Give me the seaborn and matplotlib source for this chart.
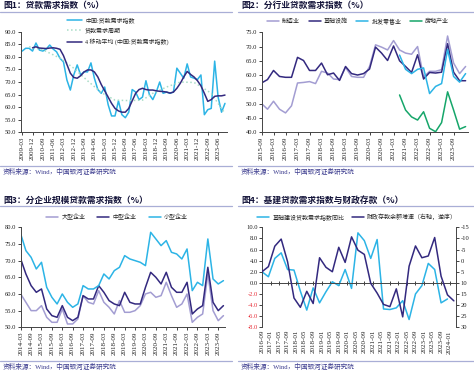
import matplotlib
matplotlib.use("Agg")
import matplotlib.pyplot as plt
from matplotlib.lines import Line2D
import seaborn as sns

# ---------------- 图1：贷款需求指数 (quarterly 2009Q1-2023Q4)
p1_ticks = ['2009-03', '2009-12', '2010-09', '2011-06', '2012-03', '2012-12',
            '2013-09', '2014-06', '2015-03', '2015-12', '2016-09', '2017-06',
            '2018-03', '2018-12', '2019-09', '2020-06', '2021-03', '2021-12',
            '2022-09', '2023-06']
p1_index = [82.3, 83.4, 83.4, 82.3, 85.5, 82.7, 82.3, 83.1, 84.7, 83.1,
            82.0, 79.4, 78.0, 70.8, 66.8, 72.8, 76.8, 72.8, 74.1, 74.0,
            77.6, 71.5, 67.0, 65.5, 68.0, 61.0, 56.5, 56.5, 62.5, 57.0,
            55.8, 58.0, 67.0, 66.0, 63.0, 64.0, 70.5, 65.0, 63.0, 66.0,
            70.0, 65.5, 66.0, 65.5, 66.0, 75.5, 73.5, 71.5, 77.2, 72.0,
            71.5, 71.0, 72.8, 57.0, 59.0, 59.5, 78.3, 64.0, 58.0, 61.5]
# 4 quarter moving average, starts at the 4th quarter
p1_ma = [83.6, 84.0, 83.5, 83.4, 83.3, 83.5, 83.6, 83.4, 83.0, 80.5,
         77.0, 73.5, 71.8, 71.5, 72.5, 74.0, 74.8, 74.8, 74.0, 72.0,
         69.0, 66.5, 64.0, 61.5, 59.5, 58.5, 58.0, 58.0, 59.5, 62.5,
         65.5, 67.0, 67.5, 67.0, 66.8, 66.8, 66.5, 66.3, 66.2, 66.0,
         65.6, 66.0, 67.5, 69.5, 72.0, 74.2, 73.0, 72.0, 70.5, 68.5,
         65.5, 62.3, 63.0, 64.3, 64.5, 64.5, 64.8]
p1_cycle_q = [2, 6, 11, 15, 19, 23, 27, 31, 35, 38, 42, 46, 50, 52, 55, 58, 59]
p1_cycle = [84.0, 82.8, 79.5, 75.5, 70.5, 65.8, 62.8, 62.6, 62.8, 65.5,
            68.0, 70.0, 69.8, 68.2, 65.5, 59.5, 57.5]

# ---------------- 图2：分行业贷款需求指数 (quarterly 2015Q3-2024Q1)
p2_ticks = ['2015-09', '2016-03', '2016-09', '2017-03', '2017-09', '2018-03',
            '2018-09', '2019-03', '2019-09', '2020-03', '2020-09', '2021-03',
            '2021-09', '2022-03', '2022-09', '2023-03', '2023-09']
p2_mfg = [50.0, 48.0, 50.8, 48.0, 46.7, 49.2, 57.2, 57.4, 57.7, 57.0,
          61.3, 60.7, 58.6, 58.4, 62.7, 59.5, 59.2, 59.2, 63.0, 70.6,
          69.8, 68.8, 72.1, 68.8, 67.7, 67.3, 70.0, 59.3, 61.3, 61.3,
          61.9, 73.7, 64.2, 60.5, 63.0]
p2_infra = [57.2, 58.4, 61.6, 59.5, 59.2, 59.2, 66.2, 65.1, 61.6, 61.6,
            64.2, 60.1, 60.7, 58.1, 63.0, 60.5, 60.0, 60.5, 62.1, 69.8,
            67.7, 65.1, 70.2, 65.0, 63.0, 60.9, 67.1, 58.6, 60.9, 60.7,
            61.0, 71.0, 61.0, 58.0, 58.0]
p2_start = 23  # 批发零售业 / 房地产业 start later
p2_retail = [67.0, 62.0, 60.5, 62.0, 62.5, 53.5, 56.0, 57.0, 69.0, 59.5, 57.5, 60.5]
p2_estate = [53.0, 47.7, 45.3, 44.2, 47.1, 41.3, 40.1, 43.3, 54.1, 47.7, 41.0, 41.9]

# ---------------- 图3：分企业规模贷款需求指数 (quarterly 2014Q1-2023Q4)
p3_ticks = ['2014-03', '2014-09', '2015-03', '2015-09', '2016-03', '2016-09',
            '2017-03', '2017-09', '2018-03', '2018-09', '2019-03', '2019-09',
            '2020-03', '2020-09', '2021-03', '2021-09', '2022-03', '2022-09',
            '2023-03', '2023-09']
p3_large = [60.0, 57.5, 55.0, 55.0, 56.5, 53.0, 51.5, 51.5, 55.5, 51.0,
            51.0, 52.5, 59.5, 57.5, 57.0, 61.0, 57.5, 56.0, 54.0, 58.0,
            54.5, 54.5, 55.0, 56.5, 60.0, 60.5, 59.0, 59.5, 63.5, 59.5,
            56.0, 57.0, 60.0, 51.5, 53.0, 54.0, 66.0, 55.0, 52.0, 53.5]
p3_mid = [70.5, 66.0, 62.5, 60.5, 61.5, 55.5, 53.5, 53.0, 56.5, 53.0,
          52.0, 53.0, 59.5, 58.5, 58.5, 62.5, 60.5, 58.0, 57.0, 56.5,
          60.5, 57.5, 57.0, 57.0, 62.0, 66.5, 65.0, 63.0, 66.5, 62.0,
          60.5, 60.5, 63.5, 54.0, 55.5, 56.5, 68.0, 57.5, 55.0, 56.5]
p3_small = [78.0, 73.0, 71.0, 67.5, 69.5, 62.0, 59.0, 57.0, 60.0, 57.5,
            56.0, 57.0, 62.5, 61.5, 61.5, 62.5, 66.0, 64.5, 67.0, 68.0,
            71.5, 70.5, 70.0, 69.5, 68.5, 78.5, 76.5, 74.5, 76.0, 72.5,
            72.0, 70.5, 73.5, 61.0, 63.5, 62.5, 76.5, 64.5, 63.0, 64.0]

# ---------------- 图4：基建贷款需求指数与财政存款 (monthly axis from 2016-09, quarterly data)
p4_ticks = ['2016-09', '2017-01', '2017-05', '2017-09', '2018-01', '2018-05',
            '2018-09', '2019-01', '2019-05', '2019-09', '2020-01', '2020-05',
            '2020-09', '2021-01', '2021-05', '2021-09', '2022-01', '2022-05',
            '2022-09', '2023-01', '2023-05', '2023-09', '2024-01']
p4_infra = [2.0, 1.1, 4.4, 5.4, 2.4, 2.3, -1.5, -4.9, -0.9, -3.6,
            -1.6, 0.2, -0.5, 2.4, -1.0, 9.0, 7.6, 4.4, 7.8, -4.7,
            -4.8, -4.5, -3.2, -6.6, -2.0, -0.5, 3.5, 2.4, -3.6, -2.9]
p4_fiscal = [5.0, 2.7, -6.5, -9.7, 0.5, 16.8, 21.0, 13.8, 19.3, -1.3,
             3.0, 5.0, -6.0, 0.8, -10.7, -4.7, -2.8, 10.2, 14.6, 19.7,
             20.7, 12.7, 25.3, 2.5, -6.6, -1.3, -2.1, -10.4, 7.0, 15.4, 18.1]

LBLUE = '#2cb4e6'
DPURP = '#33297f'
LPURP = '#a39dd2'
GREEN = '#16a66a'
PGREEN = '#a8dcc6'
TITLE_C = '#14143a'
RULE_C = '#a9aed6'
SRC_C = '#3b3b8e'
RED = '#e8303a'

sns.set_style('ticks')
plt.rcParams['font.family'] = ['Liberation Serif', 'Noto Sans CJK SC']
plt.rcParams['axes.unicode_minus'] = False

W, H = 474, 372
fig = plt.figure(figsize=(W / 100, H / 100), dpi=100)
LEG_FS = 4.3


def box(l, t, r, b):
    return [l / W, 1 - b / H, (r - l) / W, (b - t) / H]


def fy(y):
    return 1 - y / H


def header(x0, x1, yt, yr, ysr, ys, title):
    fig.text((x0 + 3) / W, fy(yt), title, fontsize=6.3, fontweight='bold',
             family=['Noto Sans CJK SC'], color=TITLE_C, va='center')
    fig.add_artist(Line2D([x0 / W, x1 / W], [fy(yr)] * 2, color=RULE_C, lw=0.9))
    fig.add_artist(Line2D([x0 / W, x1 / W], [fy(ysr)] * 2, color=RULE_C, lw=0.9))
    fig.text((x0 + 3) / W, fy(ys), '资料来源：Wind，中国银河证券研究院', fontsize=4.8,
             color=SRC_C, va='center', family=['Liberation Serif', 'Noto Sans CJK SC'])


def style(ax):
    for s in ['top', 'right']:
        ax.spines[s].set_visible(False)
    for s in ['left', 'bottom']:
        ax.spines[s].set_color('#444444')
        ax.spines[s].set_linewidth(0.7)
    ax.tick_params(axis='both', labelsize=4.7, length=2, width=0.6, pad=1.2,
                   colors='#222222')
    ax.tick_params(axis='x', labelsize=5.0)
    ax.set_xlabel('')
    ax.set_ylabel('')


def line(ax, x, y, color, label, **kw):
    sns.lineplot(x=x, y=y, ax=ax, color=color, label=label, lw=1.1, **kw)


def legend(ax_list, anchor, ncol, colsp, hl=2.0, loc='center', **kw):
    h, l = [], []
    for a in ax_list:
        hh, ll = a.get_legend_handles_labels()
        h += hh
        l += ll
        a.get_legend().remove()
    fig.legend(h, l, loc=loc, bbox_to_anchor=anchor, frameon=False, ncol=ncol,
               fontsize=LEG_FS, handlelength=hl, columnspacing=colsp,
               handletextpad=0.55, borderpad=0, borderaxespad=0, **kw)


header(0, 232, 5.5, 11.5, 166, 171.5, '图1：贷款需求指数（%）')
header(238, 474, 5.5, 11.5, 166, 171.5, '图2：分行业贷款需求指数（%）')
header(0, 232, 200.5, 206, 361, 366.5, '图3：分企业规模贷款需求指数（%）')
header(238, 474, 200.5, 206, 361, 366.5, '图4：基建贷款需求指数与财政存款（%）')

# ---- panel 1
ax1 = fig.add_axes(box(20.5, 31.7, 226.7, 132.3))
q1 = list(range(len(p1_index)))
line(ax1, q1, p1_index, LBLUE, '中国:贷款需求指数')
line(ax1, p1_cycle_q, p1_cycle, PGREEN, '贷款需求周期', linestyle=':')
line(ax1, q1[3:], p1_ma, DPURP, '4 移动平均 (中国:贷款需求指数)')
ax1.set_xlim(-0.5, 59.5)
ax1.set_ylim(50, 90)
ax1.set_yticks(range(50, 91, 5), [f'{v:.1f}' for v in range(50, 91, 5)])
ax1.set_xticks(range(0, 60, 3), p1_ticks, rotation=90)
style(ax1)
legend([ax1], (67 / W, fy(17)), 1, 1.0, hl=2.5, loc='upper left', labelspacing=0.85)

# ---- panel 2
ax2 = fig.add_axes(box(261.5, 32.3, 468, 132))
q2 = list(range(len(p2_mfg)))
qs = list(range(p2_start, p2_start + len(p2_retail)))
line(ax2, q2, p2_mfg, LPURP, '制造业')
line(ax2, q2, p2_infra, DPURP, '基础设施')
line(ax2, qs, p2_retail, LBLUE, '批发零售业')
line(ax2, qs, p2_estate, GREEN, '房地产业')
ax2.set_xlim(0, 34.4)
ax2.set_ylim(40, 75)
ax2.set_yticks(range(40, 76, 5), [f'{v:.1f}' for v in range(40, 76, 5)])
ax2.set_xticks(range(0, 34, 2), p2_ticks, rotation=90)
style(ax2)
legend([ax2], (358 / W, fy(21)), 4, 1.4)

# ---- panel 3
ax3 = fig.add_axes(box(20.7, 227.3, 225, 327.3))
q3 = list(range(len(p3_large)))
line(ax3, q3, p3_large, LPURP, '大型企业')
line(ax3, q3, p3_mid, DPURP, '中型企业')
line(ax3, q3, p3_small, LBLUE, '小型企业')
ax3.set_xlim(0, 39.3)
ax3.set_ylim(50, 80)
ax3.set_yticks(range(50, 81, 5), [f'{v:.1f}' for v in range(50, 81, 5)])
ax3.set_xticks(range(0, 40, 2), p3_ticks, rotation=90)
style(ax3)
legend([ax3], (117 / W, fy(217)), 3, 2.0)

# ---- panel 4
ax4 = fig.add_axes(box(262, 227.3, 456, 327.3))
ax4r = ax4.twinx()
m_infra = [3 * i for i in range(len(p4_infra))]
m_fiscal = [3 * i for i in range(len(p4_fiscal))]
line(ax4, m_infra, p4_infra, LBLUE, '基础建设贷款需求指数同比')
line(ax4r, m_fiscal, p4_fiscal, DPURP, '财政存款余额增速（右轴，逆序）')
ax4.set_xlim(0, 91)
ax4.set_ylim(-8, 10)
ax4r.set_ylim(30, -15)
yl = list(range(-8, 11, 2))
ax4.set_yticks(yl, [f'{v:.1f}' for v in yl])
ax4r.set_yticks(range(-15, 31, 5), [str(v) for v in range(-15, 31, 5)])
style(ax4)
for t, v in zip(ax4.get_yticklabels(), yl):
    t.set_color(RED if v < 0 else '#222222')
ax4.spines['bottom'].set_position(('data', 0))
ax4.set_xticks(range(0, 89, 4))
ax4.tick_params(axis='x', labelbottom=False, direction='inout', length=3)
sec = ax4.secondary_xaxis('bottom')
sec.set_xticks(range(0, 89, 4), p4_ticks, rotation=90)
sec.spines['bottom'].set_visible(False)
sec.tick_params(axis='x', length=0, labelsize=5.0, pad=2, colors='#222222')
for s in ['top', 'left', 'bottom']:
    ax4r.spines[s].set_visible(False)
ax4r.spines['right'].set_color('#444444')
ax4r.spines['right'].set_linewidth(0.7)
ax4r.tick_params(axis='y', labelsize=4.7, length=2, width=0.6, pad=1.5, colors='#222222')
ax4r.set_ylabel('')
legend([ax4, ax4r], (357 / W, fy(217)), 2, 1.2)

fig.savefig('out.png', dpi=100, facecolor='white')
